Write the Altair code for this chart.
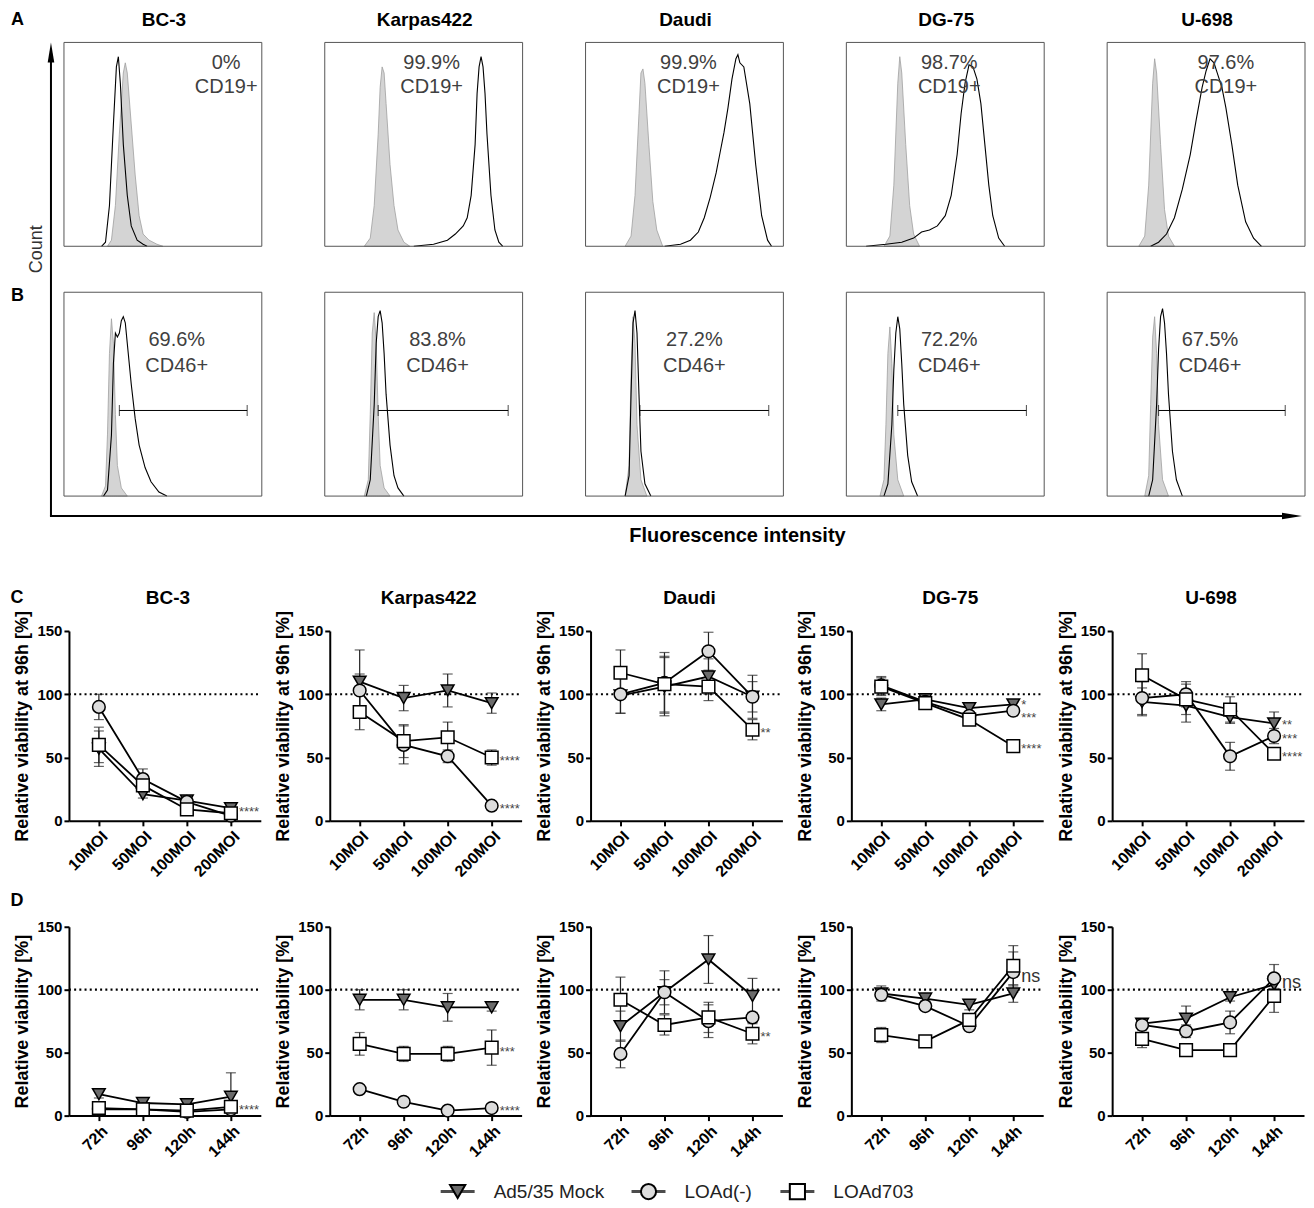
import altair as alt
import pandas as pd

FONT = "Liberation Sans"

cells = ["BC-3", "Karpas422", "Daudi", "DG-75", "U-698"]
series = ["Ad5/35 Mock", "LOAd(-)", "LOAd703"]
moi_labels = ["10MOI", "50MOI", "100MOI", "200MOI"]
time_labels = ["72h", "96h", "120h", "144h"]

# ---------------- A: CD19 histograms (x: % of fluorescence axis, y: % of frame height)
a_iso_x = {
    "BC-3": [22, 24, 26, 28, 30, 31, 32, 34, 36, 38, 40, 43, 47, 50],
    "Karpas422": [20, 23, 25, 27, 28, 29, 30, 31, 33, 35, 37, 40, 43],
    "Daudi": [20, 23, 25, 27, 28, 29, 30, 32, 34, 36, 39],
    "DG-75": [19, 22, 24, 26, 27, 28, 30, 32, 34, 37],
    "U-698": [16, 19, 21, 23, 24, 25, 27, 29, 31, 34],
}
a_iso_y = {
    "BC-3": [0, 3, 20, 55, 85, 90, 85, 60, 35, 15, 6, 3, 1, 0],
    "Karpas422": [0, 4, 20, 55, 78, 88, 85, 70, 40, 20, 8, 2, 0],
    "Daudi": [0, 5, 25, 65, 85, 87, 80, 50, 22, 8, 0],
    "DG-75": [0, 5, 30, 80, 93, 85, 50, 20, 6, 0],
    "U-698": [0, 5, 30, 80, 92, 85, 50, 18, 5, 0],
}
a_stain_x = {
    "BC-3": [19, 21, 23, 25, 26.5, 27.5, 28.5, 30, 32, 34, 37, 40, 42],
    "Karpas422": [45, 55, 62, 66, 70, 72, 74, 76, 77, 78, 79, 80, 81, 82, 84, 86, 88, 90],
    "Daudi": [40, 48, 53, 57, 60, 63, 66, 68, 70, 72, 74, 76, 77, 78, 80, 83, 86, 89, 92, 94],
    "DG-75": [10, 20, 28, 34, 38, 42, 46, 50, 53, 56, 58, 60, 62, 64, 66, 68, 70, 72, 74, 77, 80],
    "U-698": [22, 26, 30, 34, 38, 42, 45, 48, 50, 52, 54, 56, 58, 60, 63, 66, 70, 74, 78],
}
a_stain_y = {
    "BC-3": [0, 2, 20, 60, 88, 93, 80, 50, 25, 10, 3, 1, 0],
    "Karpas422": [0, 1, 3, 6, 10, 14, 25, 50, 75, 88, 93, 88, 75, 55, 25, 8, 2, 0],
    "Daudi": [0, 1, 3, 7, 14, 24, 36, 46, 56, 68, 82, 92, 94, 90, 88, 70, 40, 15, 3, 0],
    "DG-75": [0, 1, 2, 4, 7, 8, 10, 15, 25, 45, 65, 80, 89, 88, 82, 70, 50, 30, 15, 4, 0],
    "U-698": [0, 2, 6, 14, 28, 45, 62, 78, 86, 92, 90, 84, 78, 68, 50, 30, 12, 4, 0],
}
a_pct = ["0%", "99.9%", "99.9%", "98.7%", "97.6%"]
a_marker = "CD19+"
a_text_x = [82, 54, 52, 52, 60]

# ---------------- B: CD46 histograms
b_iso_x = {
    "BC-3": [19, 21, 22, 23, 24, 25, 26, 27, 29, 32],
    "Karpas422": [20, 22, 23, 24, 25, 26, 27, 28, 30, 33],
    "Daudi": [20, 22, 23, 24, 25, 26, 28, 31],
    "DG-75": [17, 19, 20, 21, 22, 23, 24, 26, 29],
    "U-698": [19, 21, 22, 23, 24, 25, 26, 28, 31],
}
b_iso_y = {
    "BC-3": [0, 5, 30, 70, 87, 75, 40, 15, 4, 0],
    "Karpas422": [0, 8, 40, 80, 90, 75, 40, 15, 4, 0],
    "Daudi": [0, 15, 60, 88, 75, 35, 8, 0],
    "DG-75": [0, 8, 35, 70, 83, 65, 30, 8, 0],
    "U-698": [0, 10, 45, 78, 88, 70, 35, 8, 0],
}
b_stain_x = {
    "BC-3": [20, 22, 24, 25, 26, 27, 28, 29, 30, 31, 32, 34, 36, 38, 41, 44, 48, 52],
    "Karpas422": [21, 23, 25, 26, 27, 28, 29, 30, 31, 33, 35, 37, 40],
    "Daudi": [20, 22, 23, 24, 25, 26, 27, 28, 30, 33],
    "DG-75": [19, 21, 23, 24, 25, 26, 27, 28, 29, 31, 33, 36],
    "U-698": [21, 23, 25, 26, 27, 28, 29, 30, 31, 33, 35, 38],
}
b_stain_y = {
    "BC-3": [0, 3, 30, 65, 80, 78, 80, 86, 88, 85, 75, 55, 38, 25, 14, 7, 2, 0],
    "Karpas422": [0, 8, 45, 75, 88, 91, 85, 70, 50, 25, 10, 4, 0],
    "Daudi": [0, 10, 50, 85, 91, 80, 50, 22, 6, 0],
    "DG-75": [0, 6, 35, 62, 80, 88, 82, 65, 45, 20, 7, 0],
    "U-698": [0, 8, 45, 72, 88, 92, 85, 70, 50, 22, 8, 0],
}
b_pct = ["69.6%", "83.8%", "27.2%", "72.2%", "67.5%"]
b_marker = "CD46+"
b_text_x = [57, 57, 55, 52, 52]
b_gate_start = [28, 27, 27.5, 26, 26]
b_gate_end = [92.6, 92.7, 92.6, 91, 90]
b_gate_level = 42

# ---------------- C: viability at 96h vs MOI (mean, error)
c_mean = {
    "BC-3": {"Ad5/35 Mock": [57, 21, 16, 10], "LOAd(-)": [90, 33, 15, 4], "LOAd703": [60, 28, 9, 6]},
    "Karpas422": {"Ad5/35 Mock": [110, 97, 103, 93], "LOAd(-)": [103, 60, 51, 12], "LOAd703": [86, 63, 66, 50]},
    "Daudi": {"Ad5/35 Mock": [99, 106, 114, 98], "LOAd(-)": [100, 109, 134, 98], "LOAd703": [117, 108, 106, 72]},
    "DG-75": {"Ad5/35 Mock": [92, 96, 89, 92], "LOAd(-)": [107, 94, 83, 87], "LOAd703": [106, 93, 80, 59]},
    "U-698": {"Ad5/35 Mock": [94, 91, 82, 77], "LOAd(-)": [97, 100, 51, 67], "LOAd703": [115, 96, 88, 53]},
}
c_err = {
    "BC-3": {"Ad5/35 Mock": [14, 3, 2, 2], "LOAd(-)": [10, 8, 2, 1], "LOAd703": [14, 5, 2, 1]},
    "Karpas422": {"Ad5/35 Mock": [25, 10, 13, 8], "LOAd(-)": [13, 15, 5, 1], "LOAd703": [14, 13, 12, 6]},
    "Daudi": {"Ad5/35 Mock": [14, 23, 14, 17], "LOAd(-)": [15, 24, 15, 12], "LOAd703": [18, 22, 11, 8]},
    "DG-75": {"Ad5/35 Mock": [5, 2, 3, 2], "LOAd(-)": [7, 2, 3, 3], "LOAd703": [7, 2, 3, 4]},
    "U-698": {"Ad5/35 Mock": [11, 13, 5, 9], "LOAd(-)": [13, 10, 11, 6], "LOAd703": [17, 12, 10, 4]},
}
c_sig_cell = ["BC-3", "Karpas422", "Karpas422", "Daudi", "DG-75", "DG-75", "DG-75", "U-698", "U-698", "U-698"]
c_sig_value = [9, 50, 12, 72, 94, 84, 59, 78, 67, 53]
c_sig_text = ["****", "****", "****", "**", "*", "***", "****", "**", "***", "****"]

# ---------------- D: viability over time
d_mean = {
    "BC-3": {"Ad5/35 Mock": [17, 10, 9, 15], "LOAd(-)": [5, 5, 3, 5], "LOAd703": [6, 5, 4, 7]},
    "Karpas422": {"Ad5/35 Mock": [92, 92, 86, 86], "LOAd(-)": [21, 11, 4, 6], "LOAd703": [57, 49, 49, 54]},
    "Daudi": {"Ad5/35 Mock": [71, 98, 124, 95], "LOAd(-)": [49, 98, 75, 78], "LOAd703": [92, 72, 78, 65]},
    "DG-75": {"Ad5/35 Mock": [97, 93, 88, 97], "LOAd(-)": [96, 87, 71, 114], "LOAd703": [64, 59, 76, 119]},
    "U-698": {"Ad5/35 Mock": [73, 77, 94, 104], "LOAd(-)": [72, 67, 74, 109], "LOAd703": [61, 52, 52, 95]},
}
d_err = {
    "BC-3": {"Ad5/35 Mock": [3, 2, 2, 19], "LOAd(-)": [1, 1, 1, 1], "LOAd703": [5, 1, 1, 2]},
    "Karpas422": {"Ad5/35 Mock": [8, 8, 11, 3], "LOAd(-)": [1, 1, 1, 1], "LOAd703": [9, 6, 6, 14]},
    "Daudi": {"Ad5/35 Mock": [12, 17, 19, 14], "LOAd(-)": [11, 10, 13, 4], "LOAd703": [18, 8, 12, 8]},
    "DG-75": {"Ad5/35 Mock": [6, 2, 4, 7], "LOAd(-)": [3, 3, 2, 16], "LOAd703": [6, 3, 4, 16]},
    "U-698": {"Ad5/35 Mock": [3, 10, 3, 3], "LOAd(-)": [3, 5, 9, 11], "LOAd703": [7, 3, 1, 13]},
}
d_sig_cell = ["BC-3", "Karpas422", "Karpas422", "Daudi", "DG-75", "U-698"]
d_sig_value = [7, 53, 6, 65, 110, 105]
d_sig_text = ["****", "***", "****", "**", "ns", "ns"]

marker_shapes = ["triangle-down", "circle", "square"]
marker_fills = ["#6b6b6b", "#dcdcdc", "#ffffff"]
legend_x = [389, 580, 729]

# ======================================================================
# Flow cytometry facets (rows A and B)
recs = []
for i, c in enumerate(cells):
    for panel, ix, iy, sx, sy in (("A", a_iso_x, a_iso_y, a_stain_x, a_stain_y),
                                   ("B", b_iso_x, b_iso_y, b_stain_x, b_stain_y)):
        for x, y in zip(ix[c], iy[c]):
            recs.append(dict(line=c, panel=panel, kind="iso", x=x, y=y))
        for x, y in zip(sx[c], sy[c]):
            recs.append(dict(line=c, panel=panel, kind="stain", x=x, y=y))
        recs.append(dict(line=c, panel=panel, kind="box"))
    recs.append(dict(line=c, panel="A", kind="title", text=c))
    recs.append(dict(line=c, panel="A", kind="pct1", x=a_text_x[i], text=a_pct[i]))
    recs.append(dict(line=c, panel="A", kind="pct2", x=a_text_x[i], text=a_marker))
    recs.append(dict(line=c, panel="B", kind="pct1", x=b_text_x[i], text=b_pct[i]))
    recs.append(dict(line=c, panel="B", kind="pct2", x=b_text_x[i], text=b_marker))
    recs.append(dict(line=c, panel="B", kind="gate", x=b_gate_start[i], x2=b_gate_end[i], y=b_gate_level))
recs += [
    dict(line="BC-3", panel="A", kind="labA", text="A"),
    dict(line="BC-3", panel="B", kind="labB", text="B"),
    dict(line="BC-3", panel="A", kind="count", text="Count"),
    dict(line="BC-3", panel="B", kind="arrow", text="Fluorescence intensity"),
]
df_ab = pd.DataFrame(recs)

W_AB, H_AB = 193, 204
BOX_L, BOX_R = -5, 193
xs = alt.Scale(domain=[0, 100], range=[BOX_L, BOX_R], nice=False, zero=False)
ys = alt.Scale(domain=[0, 100], nice=False)


def HX(f):
    return alt.X(f, type="quantitative", scale=xs, axis=None)


def HY(f):
    return alt.Y(f, type="quantitative", scale=ys, axis=None)


def only(kind):
    return f"datum.kind == '{kind}'"


TXT = dict(fontSize=20, color="#404040")
hb = alt.Chart()
ab_layers = [
    hb.mark_area(fill="#d4d4d4", stroke="#a0a0a0", strokeWidth=0.8).encode(x=HX("x"), y=HY("y")).transform_filter(only("iso")),
    hb.mark_line(color="black", strokeWidth=1.1).encode(x=HX("x"), y=HY("y")).transform_filter(only("stain")),
    hb.mark_rect(filled=False, color="#555555", strokeWidth=1).encode(
        x=alt.value(BOX_L), x2=alt.value(BOX_R), y=alt.value(0), y2=alt.value(H_AB)).transform_filter(only("box")),
    hb.mark_text(**TXT).encode(
        x=HX("x"), y=alt.value(21), text="text:N").transform_filter("datum.kind == 'pct1' && datum.panel == 'A'"),
    hb.mark_text(**TXT).encode(
        x=HX("x"), y=alt.value(45), text="text:N").transform_filter("datum.kind == 'pct2' && datum.panel == 'A'"),
    hb.mark_text(**TXT).encode(
        x=HX("x"), y=alt.value(48), text="text:N").transform_filter("datum.kind == 'pct1' && datum.panel == 'B'"),
    hb.mark_text(**TXT).encode(
        x=HX("x"), y=alt.value(74), text="text:N").transform_filter("datum.kind == 'pct2' && datum.panel == 'B'"),
    hb.mark_rule(color="black", strokeWidth=1).encode(x=HX("x"), x2="x2:Q", y=HY("y")).transform_filter(only("gate")),
    hb.mark_tick(orient="vertical", size=11, thickness=1, color="black").encode(x=HX("x"), y=HY("y")).transform_filter(only("gate")),
    hb.mark_tick(orient="vertical", size=11, thickness=1, color="black").encode(x=HX("x2"), y=HY("y")).transform_filter(only("gate")),
    hb.mark_text(fontSize=19, fontWeight="bold", color="black").encode(
        x=alt.value(95), y=alt.value(-22), text="text:N").transform_filter(only("title")),
    hb.mark_text(fontSize=18, fontWeight="bold", color="black").encode(
        x=alt.value(-51.5), y=alt.value(-22), text="text:N").transform_filter(only("labA")),
    hb.mark_text(fontSize=18, fontWeight="bold", color="black").encode(
        x=alt.value(-51.5), y=alt.value(4), text="text:N").transform_filter(only("labB")),
    hb.mark_text(fontSize=18, color="#333333", angle=270).encode(
        x=alt.value(-32), y=alt.value(207), text="text:N").transform_filter(only("count")),
    # axes arrows
    hb.mark_rule(color="black", strokeWidth=2).encode(
        x=alt.value(-18), y=alt.value(-240), y2=alt.value(224)).transform_filter(only("arrow")),
    hb.mark_rule(color="black", strokeWidth=2).encode(
        x=alt.value(-19), x2=alt.value(1224), y=alt.value(224)).transform_filter(only("arrow")),
    hb.mark_point(shape="M0,-1L0.33,1L-0.33,1Z", filled=True, size=400, color="black", opacity=1).encode(
        x=alt.value(-18), y=alt.value(-240)).transform_filter(only("arrow")),
    hb.mark_point(shape="M1,0L-1,0.33L-1,-0.33Z", filled=True, size=400, color="black", opacity=1).encode(
        x=alt.value(1224), y=alt.value(224)).transform_filter(only("arrow")),
    hb.mark_text(fontSize=20, fontWeight="bold", color="black").encode(
        x=alt.value(669), y=alt.value(244), text="text:N").transform_filter(only("arrow")),
    # invisible extent keeper (controls the gap to row C)
    hb.mark_rule(strokeOpacity=0).encode(
        x=alt.value(0), x2=alt.value(10), y=alt.value(285)).transform_filter(only("arrow")),
]
ab = alt.layer(*ab_layers).properties(width=W_AB, height=H_AB).facet(
    row=alt.Row("panel:N", sort=["A", "B"], header=None),
    column=alt.Column("line:N", sort=cells, header=None),
    data=df_ab, spacing={"row": 46, "column": 68}, bounds="flush",
)

# ======================================================================
# Viability facets (rows C and D)
W_V = 192


def viability(mean, err, cats, sig_cell, sig_val, sig_txt, ytitle, label, titles, height, label_y):
    rows = []
    for c in cells:
        for s in series:
            for k, cat in enumerate(cats):
                m = mean[c][s][k]
                e = err[c][s][k]
                rows.append(dict(line=c, kind="pt", series=s, x=cat, idx=k, y=m, lo=max(m - e, 0), hi=m + e))
        rows.append(dict(line=c, kind="ref", y=100))
        if titles:
            rows.append(dict(line=c, kind="title", text=c))
    for c, v, t in zip(sig_cell, sig_val, sig_txt):
        rows.append(dict(line=c, kind="ns" if t == "ns" else "sig", x=cats[-1], y=v, text=t))
    rows.append(dict(line="BC-3", kind="lab", text=label))
    df = pd.DataFrame(rows)

    xsc = alt.Scale(type="point", domain=cats, padding=0.68)
    ysc = alt.Scale(domain=[0, 150], nice=False)
    xax = alt.Axis(labelAngle=-45, labelFontSize=16, labelFontWeight="bold", labelColor="black",
                   domainColor="black", domainWidth=2, tickColor="black", tickWidth=2, tickSize=5,
                   labelPadding=2, title=None)
    yax = alt.Axis(values=[0, 50, 100, 150], labelFontSize=15, labelFontWeight="bold", labelColor="black",
                   domainColor="black", domainWidth=2, tickColor="black", tickWidth=2, tickSize=5,
                   labelPadding=2, grid=False, title=ytitle, titleFontSize=18, titleFontWeight="bold",
                   titleColor="black", titlePadding=5)

    def X(f):
        return alt.X(f, type="nominal", scale=xsc, axis=xax)

    def Y(f):
        return alt.Y(f, type="quantitative", scale=ysc, axis=yax)

    b = alt.Chart()
    shp = alt.Shape("series:N", scale=alt.Scale(domain=series, range=marker_shapes), legend=None)
    fil = alt.Fill("series:N", scale=alt.Scale(domain=series, range=marker_fills), legend=None)
    layers = [
        b.mark_rule(color="black", strokeWidth=2.2, strokeDash=[2, 3.2]).encode(
            x=alt.value(0), x2=alt.value(W_V), y=Y("y")).transform_filter(only("ref")),
        b.mark_rule(color="#222222", strokeWidth=1.2).encode(x=X("x"), y=Y("lo"), y2="hi:Q").transform_filter(only("pt")),
        b.mark_tick(color="#222222", thickness=1.2, size=10).encode(x=X("x"), y=Y("lo")).transform_filter(only("pt")),
        b.mark_tick(color="#222222", thickness=1.2, size=10).encode(x=X("x"), y=Y("hi")).transform_filter(only("pt")),
        b.mark_line(color="black", strokeWidth=1.8).encode(
            x=X("x"), y=Y("y"), detail="series:N", order="idx:Q").transform_filter(only("pt")),
        b.mark_point(filled=True, size=160, stroke="black", strokeWidth=1.5, opacity=1).encode(
            x=X("x"), y=Y("y"), shape=shp, fill=fil).transform_filter(only("pt")),
        b.mark_text(align="left", dx=8, dy=3, fontSize=13, color="#444444").encode(
            x=X("x"), y=Y("y"), text="text:N").transform_filter(only("sig")),
        b.mark_text(align="left", dx=8, fontSize=18, color="#333333").encode(
            x=X("x"), y=Y("y"), text="text:N").transform_filter(only("ns")),
        b.mark_text(fontSize=18, fontWeight="bold", color="black").encode(
            x=alt.value(-52), y=alt.value(label_y), text="text:N").transform_filter(only("lab")),
    ]
    if titles:
        layers.append(b.mark_text(fontSize=19, fontWeight="bold", color="black").encode(
            x=alt.value(W_V / 2 + 3), y=alt.value(-33), text="text:N").transform_filter(only("title")))
    return alt.layer(*layers).properties(width=W_V, height=height).facet(
        column=alt.Column("line:N", sort=cells, header=None),
        data=df, spacing=69, bounds="flush",
    ).resolve_axis(x="independent", y="independent")


fc = viability(c_mean, c_err, moi_labels, c_sig_cell, c_sig_value, c_sig_text,
               "Relative viability at 96h [%]", "C", True, 190, -33)
fd = viability(d_mean, d_err, time_labels, d_sig_cell, d_sig_value, d_sig_text,
               "Relative viability [%]", "D", False, 189, -26)

# ======================================================================
# Legend
leg_df = pd.DataFrame({"series": series})
leg_layers = []
for s, lx in zip(series, legend_x):
    lb = alt.Chart(leg_df).transform_filter(f"datum.series == '{s}'")
    leg_layers += [
        lb.mark_tick(orient="horizontal", size=34, thickness=3, color="black").encode(
            x=alt.value(lx), y=alt.value(19)),
        lb.mark_point(filled=True, size=230, stroke="black", strokeWidth=2, opacity=1).encode(
            x=alt.value(lx), y=alt.value(19),
            shape=alt.Shape("series:N", scale=alt.Scale(domain=series, range=marker_shapes), legend=None),
            fill=alt.Fill("series:N", scale=alt.Scale(domain=series, range=marker_fills), legend=None)),
        lb.mark_text(align="left", dx=36, fontSize=19, color="#222222").encode(
            x=alt.value(lx), y=alt.value(19), text="series:N"),
    ]
legend = alt.layer(*leg_layers).properties(width=1000, height=30)

chart = alt.vconcat(ab, fc, fd, legend, spacing=12).properties(
    padding={"left": 2, "top": 3, "right": 0, "bottom": 2}
).configure(font=FONT).configure_view(strokeWidth=0)

chart.save("out.html", embed_options={"renderer": "svg", "actions": False})
